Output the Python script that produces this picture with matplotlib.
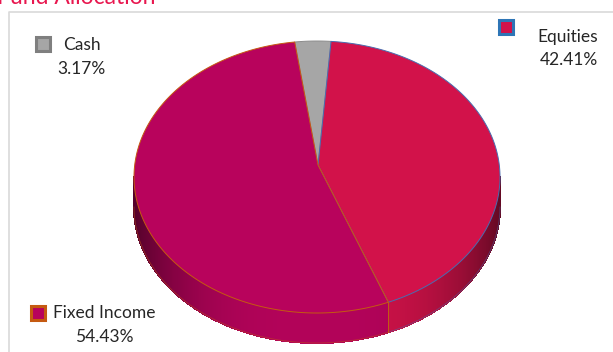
import numpy as np
import matplotlib
matplotlib.use("Agg")
import matplotlib.pyplot as plt
from matplotlib.patches import Polygon, Rectangle
from matplotlib.colors import to_rgb

title = "Fund Allocation"
categories = ["Cash", "Equities", "Fixed Income"]
values = [3.17, 42.41, 54.43]
value_labels = ["3.17%", "42.41%", "54.43%"]
face_colors = ["#A6A6A6", "#D2124A", "#B8035C"]
edge_colors = ["#8C8C8C", "#4A6DB0", "#C55A11"]

W, H = 613, 352
fig = plt.figure(figsize=(W / 100, H / 100), dpi=100)
ax = fig.add_axes([0, 0, 1, 1])
ax.set_xlim(0, W)
ax.set_ylim(H, 0)
ax.axis("off")

# frame
ax.plot([9, 9, W], [H, 12, 12], color="#D9D9D9", lw=1.2, solid_capstyle="butt")

# title (cut off at top, as in the original)
ax.text(-3, 4.5, title, color="#E8174F", fontsize=16.5, family="Lato", va="baseline", ha="left")

# pie geometry
cx, cy, a, b, depth = 317, 177, 183, 136, 30
vx, vy = 318, 165
start = -7.0

def pt(theta, dy=0.0):
    t = np.radians(theta)
    return cx + a * np.sin(t), cy - b * np.cos(t) + dy

total = sum(values)
bounds = []
ang = start
for v in values:
    span = 360.0 * v / total
    bounds.append((ang, ang + span))
    ang += span

def shade(theta):
    s = abs(np.sin(np.radians(theta)))
    return 0.97 - 0.5 * s ** 3

# side faces (front half visible: theta in [90, 270])
for (t0, t1), fc, ec in zip(bounds, face_colors, edge_colors):
    base = np.array(to_rgb(fc))
    lo, hi = max(t0, 90), min(t1, 270)
    if hi <= lo:
        continue
    ths = np.linspace(lo, hi, max(2, int((hi - lo) * 2)))
    full = [pt(t) for t in ths] + [pt(t, depth) for t in ths[::-1]]
    ax.add_patch(Polygon(full, closed=True, fc=base * 0.8, ec="none", antialiased=True))
    for i in range(len(ths) - 1):
        p = [pt(ths[i]), pt(ths[i + 1]), pt(ths[i + 1], depth), pt(ths[i], depth)]
        col = np.clip(base * shade((ths[i] + ths[i + 1]) / 2), 0, 1)
        ax.add_patch(Polygon(p, closed=True, fc=col, ec=col, lw=0.8, antialiased=False))
    bx = [pt(t, depth)[0] for t in ths]
    by = [pt(t, depth)[1] for t in ths]
    ax.plot(bx, by, color=ec, lw=0.6, alpha=0.5)
    for t in (lo, hi):
        if t in (t0, t1):
            x0, y0 = pt(t)
            x1, y1 = pt(t, depth)
            ax.plot([x0, x1], [y0, y1], color=ec, lw=0.7)

# top faces
for (t0, t1), fc, ec in zip(bounds, face_colors, edge_colors):
    ths = np.linspace(t0, t1, max(3, int((t1 - t0) * 2)))
    p = [(vx, vy)] + [pt(t) for t in ths]
    ax.add_patch(Polygon(p, closed=True, fc=fc, ec=ec, lw=0.7, joinstyle="round"))

# labels with legend keys
txt = dict(family="Lato", fontsize=12.5, color="#262626")
keys = [(43, 44), (506, 27), (38, 313)]
key_edges = ["#7F7F7F", "#2E75B6", "#C55A11"]
name_pos = [(63, 45, "left"), (568, 37, "center"), (53, 313, "left")]
val_pos = [(81, 69), (569, 60), (104, 337)]
for i, cat in enumerate(categories):
    kx, ky = keys[i]
    ax.add_patch(Rectangle((kx - 7, ky - 7), 14, 14, fc=face_colors[i], ec=key_edges[i], lw=2.2))
    nx, ny, ha = name_pos[i]
    ax.text(nx, ny, cat, ha=ha, va="center", **txt)
    ax.text(val_pos[i][0], val_pos[i][1], value_labels[i], ha="center", va="center", **txt)

fig.savefig("out.png", dpi=100)
